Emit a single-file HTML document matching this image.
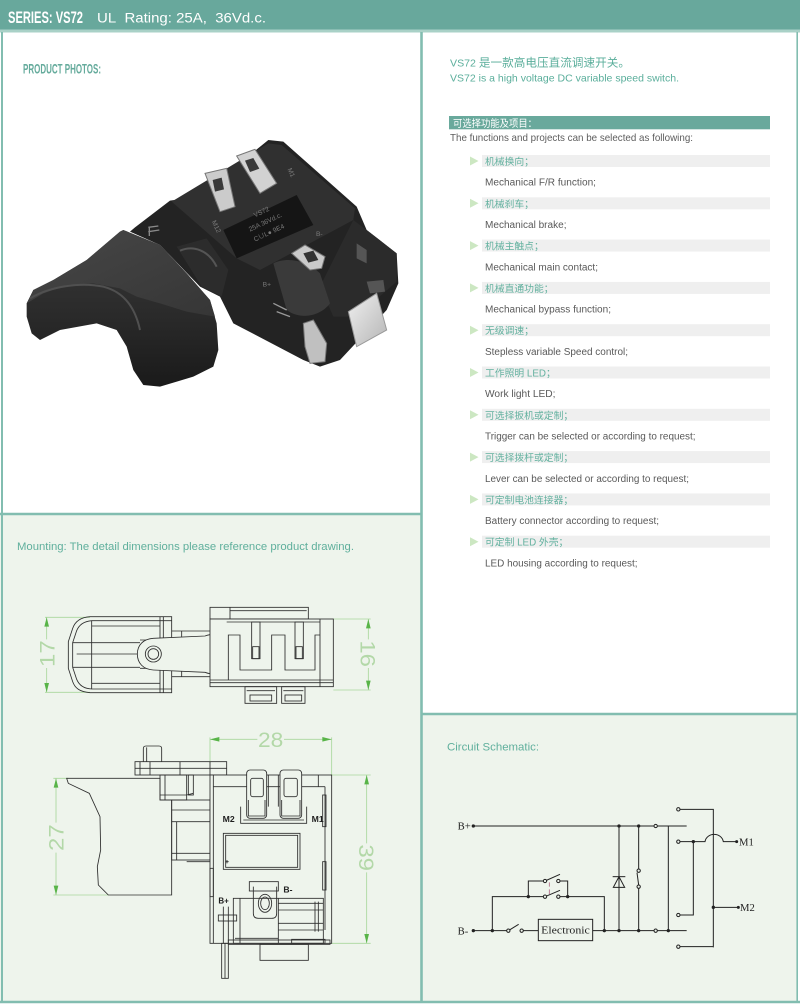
<!DOCTYPE html>
<html><head><meta charset="utf-8">
<style>
html,body{margin:0;padding:0;width:800px;height:1004px;overflow:hidden;background:#fff;}
svg{position:absolute;left:0;top:0;display:block;}
</style></head>
<body>
<svg width="800" height="1004" viewBox="0 0 800 1004" xmlns="http://www.w3.org/2000/svg" font-family="'Liberation Sans','Noto Sans CJK SC',sans-serif">
<defs>
<linearGradient id="trg" x1="0" y1="0" x2="0" y2="1">
<stop offset="0" stop-color="#3a3a3a"/><stop offset="0.55" stop-color="#2a2a2a"/><stop offset="1" stop-color="#1a1a1a"/>
</linearGradient>
<linearGradient id="trtop" x1="0" y1="0" x2="1" y2="1">
<stop offset="0" stop-color="#474747"/><stop offset="1" stop-color="#363636"/>
</linearGradient>
<linearGradient id="led" x1="0" y1="0" x2="1" y2="1">
<stop offset="0" stop-color="#f0f0f0"/><stop offset="1" stop-color="#b5b5b5"/>
</linearGradient>
</defs>
<!-- backgrounds -->
<rect x="0" y="0" width="800" height="1004" fill="#fff"/>
<rect x="0" y="515" width="421" height="487" fill="#eef4ec"/>
<rect x="421" y="715" width="377" height="287" fill="#eef4ec"/>
<rect x="0" y="0" width="800" height="29.5" fill="#68a89c"/>
<rect x="0" y="29.5" width="800" height="3" fill="#a9d1c7"/>
<!-- borders -->
<g stroke="#82bdb0" fill="none">
<line x1="2" y1="32" x2="2" y2="1003" stroke-width="2"/>
<line x1="797.2" y1="32" x2="797.2" y2="1003" stroke-width="1.6"/>
<line x1="421.5" y1="32" x2="421.5" y2="1003" stroke-width="2.6"/>
<line x1="0" y1="514" x2="421" y2="514" stroke-width="2.6"/>
<line x1="421" y1="714" x2="798" y2="714" stroke-width="2.6"/>
<line x1="0" y1="1002" x2="800" y2="1002" stroke-width="2.4"/>
</g>
<!-- header -->
<text x="8" y="23" font-size="17" font-weight="bold" fill="#fff" textLength="75" lengthAdjust="spacingAndGlyphs">SERIES: VS72</text>
<text x="97" y="22.5" font-size="13.5" fill="#fff" textLength="169" lengthAdjust="spacingAndGlyphs">UL&#160;&#160;Rating: 25A,&#160;&#160;36Vd.c.</text>
<text x="23" y="73.3" font-size="14" font-weight="bold" fill="#65ab9c" textLength="78" lengthAdjust="spacingAndGlyphs">PRODUCT PHOTOS:</text>

<!-- right panel text -->
<text x="450" y="66.7" font-size="10.5" fill="#5aae9b" textLength="180" lengthAdjust="spacingAndGlyphs">VS72 <tspan font-size="11.5">是一款高电压直流调速开关。</tspan></text>
<text x="450" y="81.7" font-size="10.5" fill="#5aae9b" textLength="229" lengthAdjust="spacingAndGlyphs">VS72 is a high voltage DC variable speed switch.</text>
<rect x="449" y="116" width="321" height="13.3" fill="#69a99c"/>
<text x="453" y="127.2" font-size="10" fill="#fff" textLength="84" lengthAdjust="spacingAndGlyphs">可选择功能及项目：</text>
<text x="450" y="141" font-size="10.3" fill="#5d5d5d" textLength="243" lengthAdjust="spacingAndGlyphs">The functions and projects can be selected as following:</text>

<g font-size="9.8">
<g transform="translate(0,155)">
<rect x="482" y="0" width="288" height="12" fill="#efefef"/><polygon points="470,1.5 478.5,6 470,10.5" fill="#cce7c2"/>
<text x="485" y="10" fill="#63b19f">机械换向；</text>
<text x="485" y="30.7" font-size="10" fill="#595959" textLength="111" lengthAdjust="spacingAndGlyphs">Mechanical F/R function;</text>
</g>
<g transform="translate(0,197.3)">
<rect x="482" y="0" width="288" height="12" fill="#efefef"/><polygon points="470,1.5 478.5,6 470,10.5" fill="#cce7c2"/>
<text x="485" y="10" fill="#63b19f">机械刹车；</text>
<text x="485" y="30.7" font-size="10" fill="#595959" textLength="81.5" lengthAdjust="spacingAndGlyphs">Mechanical brake;</text>
</g>
<g transform="translate(0,239.6)">
<rect x="482" y="0" width="288" height="12" fill="#efefef"/><polygon points="470,1.5 478.5,6 470,10.5" fill="#cce7c2"/>
<text x="485" y="10" fill="#63b19f">机械主触点；</text>
<text x="485" y="30.7" font-size="10" fill="#595959" textLength="113" lengthAdjust="spacingAndGlyphs">Mechanical main contact;</text>
</g>
<g transform="translate(0,281.9)">
<rect x="482" y="0" width="288" height="12" fill="#efefef"/><polygon points="470,1.5 478.5,6 470,10.5" fill="#cce7c2"/>
<text x="485" y="10" fill="#63b19f">机械直通功能；</text>
<text x="485" y="30.7" font-size="10" fill="#595959" textLength="126" lengthAdjust="spacingAndGlyphs">Mechanical bypass function;</text>
</g>
<g transform="translate(0,324.2)">
<rect x="482" y="0" width="288" height="12" fill="#efefef"/><polygon points="470,1.5 478.5,6 470,10.5" fill="#cce7c2"/>
<text x="485" y="10" fill="#63b19f">无级调速；</text>
<text x="485" y="30.7" font-size="10" fill="#595959" textLength="143" lengthAdjust="spacingAndGlyphs">Stepless variable Speed control;</text>
</g>
<g transform="translate(0,366.5)">
<rect x="482" y="0" width="288" height="12" fill="#efefef"/><polygon points="470,1.5 478.5,6 470,10.5" fill="#cce7c2"/>
<text x="485" y="10" fill="#63b19f">工作照明 LED；</text>
<text x="485" y="30.7" font-size="10" fill="#595959" textLength="70.5" lengthAdjust="spacingAndGlyphs">Work light LED;</text>
</g>
<g transform="translate(0,408.8)">
<rect x="482" y="0" width="288" height="12" fill="#efefef"/><polygon points="470,1.5 478.5,6 470,10.5" fill="#cce7c2"/>
<text x="485" y="10" fill="#63b19f">可选择扳机或定制；</text>
<text x="485" y="30.7" font-size="10" fill="#595959" textLength="210.5" lengthAdjust="spacingAndGlyphs">Trigger can be selected or according to request;</text>
</g>
<g transform="translate(0,451.1)">
<rect x="482" y="0" width="288" height="12" fill="#efefef"/><polygon points="470,1.5 478.5,6 470,10.5" fill="#cce7c2"/>
<text x="485" y="10" fill="#63b19f">可选择拨杆或定制；</text>
<text x="485" y="30.7" font-size="10" fill="#595959" textLength="204" lengthAdjust="spacingAndGlyphs">Lever can be selected or according to request;</text>
</g>
<g transform="translate(0,493.4)">
<rect x="482" y="0" width="288" height="12" fill="#efefef"/><polygon points="470,1.5 478.5,6 470,10.5" fill="#cce7c2"/>
<text x="485" y="10" fill="#63b19f">可定制电池连接器；</text>
<text x="485" y="30.7" font-size="10" fill="#595959" textLength="174" lengthAdjust="spacingAndGlyphs">Battery connector according to request;</text>
</g>
<g transform="translate(0,535.7)">
<rect x="482" y="0" width="288" height="12" fill="#efefef"/><polygon points="470,1.5 478.5,6 470,10.5" fill="#cce7c2"/>
<text x="485" y="10" fill="#63b19f">可定制 LED 外壳；</text>
<text x="485" y="30.7" font-size="10" fill="#595959" textLength="152.5" lengthAdjust="spacingAndGlyphs">LED housing according to request;</text>
</g>
</g>

<text x="17" y="550" font-size="11" fill="#5faf9c" textLength="337" lengthAdjust="spacingAndGlyphs">Mounting: The detail dimensions please reference product drawing.</text>
<text x="447" y="750.7" font-size="11" fill="#5faf9c" textLength="92" lengthAdjust="spacingAndGlyphs">Circuit Schematic:</text>

<!-- PRODUCT PHOTO -->
<g transform="translate(20,130) scale(0.33333)">
<path d="M450,212 L535,200 L745,30 L790,35 L1010,230 L1040,300 L1130,370 L1135,460 L1100,540 L960,690 L900,710 L850,690 L640,580 L600,500 L540,470 L420,345 L330,305 L345,292 Z" fill="#232323"/>
<path d="M455,215 L745,40 L785,45 L1005,235 L1000,270 L720,420 L650,385 Z" fill="#303030"/>
<path d="M1000,270 L1040,300 L1130,370 L1130,455 L1010,560 L940,560 L900,470 Z" fill="#2b2b2b"/>
<path d="M760,400 C800,380 860,390 900,430 L930,520 C900,560 840,570 800,540 Z" fill="#3a3a3a"/>
<path d="M470,350 L560,325 L625,420 L605,500 L545,470 Z" fill="#2c2c2c"/>
<path d="M480,362 C520,345 565,360 590,410" stroke="#555" stroke-width="6" fill="none"/>
<path d="M385,292 L415,288 M385,305 L418,300 M388,292 L388,318" stroke="#8a8a8a" stroke-width="4" fill="none"/>
<!-- trigger -->
<path d="M20,520 L40,480 L100,450 L200,390 L300,305 L310,300 L420,345 L500,430 L570,510 L590,580 L595,660 L580,710 L520,740 L420,770 L370,765 L340,720 L320,650 L290,600 L230,580 L120,600 L60,630 L35,610 L20,560 Z" fill="url(#trg)"/>
<path d="M20,520 L40,480 L100,450 L200,390 L300,305 L310,300 L420,345 L500,430 L570,510 L585,560 L500,545 L420,520 L350,500 L300,475 L220,460 L140,465 L70,490 Z" fill="url(#trtop)"/>
<path d="M30,505 C90,470 180,455 250,470 C310,485 345,530 360,600" stroke="#505050" stroke-width="6" fill="none"/>
<!-- label plate -->
<polygon points="610,300 830,195 880,285 650,385" fill="#151515"/>
<g fill="#7a7a7a" font-size="20">
<text transform="translate(705,262) rotate(-25)">VS72</text>
<text transform="translate(690,305) rotate(-25)">25A 36Vd.c.</text>
<text transform="translate(705,335) rotate(-25)">C∪L● 9E4</text>
<text transform="translate(575,275) rotate(65)">M12</text>
<text transform="translate(802,118) rotate(65)">M1</text>
<text transform="translate(888,318)">B-</text>
<text transform="translate(728,470)">B+</text>
</g>
<!-- terminals -->
<polygon points="555,130 620,115 645,230 600,245" fill="#cbcbcb" stroke="#777" stroke-width="3"/>
<polygon points="578,150 605,143 612,178 585,185" fill="#3a3a3a"/>
<polygon points="650,78 705,58 770,160 720,190" fill="#d2d2d2" stroke="#777" stroke-width="3"/>
<polygon points="675,92 700,84 718,116 690,126" fill="#3a3a3a"/>
<polygon points="815,370 855,345 915,380 905,415 870,420" fill="#cacaca" stroke="#777" stroke-width="3"/>
<polygon points="850,370 880,362 895,390 865,398" fill="#333"/>
<polygon points="1010,340 1040,360 1040,400 1010,385" fill="#555"/>
<!-- LED cap -->
<polygon points="1040,455 1090,450 1095,485 1050,490" fill="#555"/>
<polygon points="985,545 1070,490 1100,600 1010,650" fill="url(#led)" stroke="#999" stroke-width="3"/>
<!-- pin -->
<polygon points="850,580 880,570 920,640 915,695 870,700 855,650" fill="#c0c0c0" stroke="#777" stroke-width="3"/>
<path d="M760,520 L800,540 M770,545 L810,560" stroke="#999" stroke-width="4"/>
</g>

<!-- MOUNTING: TOP VIEW -->
<g transform="translate(0,500) scale(0.33333)">
<g stroke="#a8d69b" stroke-width="2.5" fill="none">
<path d="M135,352 L270,352 M135,577 L270,577 M140,352 L140,418 M140,504 L140,577"/>
<path d="M1000,357 L1112,357 M1000,570 L1112,570 M1105,357 L1105,418 M1105,504 L1105,570"/>
</g>
<g fill="#58b448">
<polygon points="140,352 133,380 147,380"/><polygon points="140,577 133,549 147,549"/>
<polygon points="1105,357 1098,385 1112,385"/><polygon points="1105,570 1098,542 1112,542"/>
</g>
<g fill="#b3d8a8" font-size="64" text-anchor="middle">
<text transform="translate(140,461) rotate(-90)" y="23" textLength="80" lengthAdjust="spacingAndGlyphs">17</text>
<text transform="translate(1105,461) rotate(90)" y="23" textLength="80" lengthAdjust="spacingAndGlyphs">16</text>
</g>
<g stroke="#2e2e2e" stroke-width="2.6" fill="none">
<path d="M515,350 L270,350 C240,352 225,365 218,385 L205,425 L205,505 L218,545 C225,565 240,576 270,578 L515,578 Z"/>
<path d="M515,362 L275,362 C250,364 237,375 230,392 L218,428 L218,502 L230,538 C237,555 250,566 275,567 L515,567"/>
<path d="M275,362 L275,567 M480,350 L480,578 M490,350 L490,578 M275,378 L480,378 M275,550 L480,550 M218,428 L420,428 M218,502 L420,502 M230,462 L415,462"/>
<path d="M515,393 L630,393 M515,530 L630,530 M545,393 L545,530 M515,420 L545,420 M515,505 L545,505 M420,420 L445,420 L445,440 L420,440 M420,485 L445,485 L445,505 L420,505"/>
<path d="M460,415 L615,408 C650,395 680,405 690,440 L690,485 C680,520 650,530 615,517 L460,510 C430,508 412,490 412,462 C412,435 430,417 460,415 Z" fill="#eef4ec"/>
<circle cx="460" cy="462" r="24"/><circle cx="460" cy="462" r="16"/>
<rect x="630" y="322" width="295" height="35"/>
<path d="M690,322 L690,357 M690,332 L920,332"/>
<rect x="630" y="357" width="370" height="203" fill="#eef4ec"/>
<path d="M960,357 L960,560 M680,366 L960,366 M630,540 L1000,540 M630,548 L1000,548"/>
<path d="M685,540 L685,405 L720,405 L720,510 L815,510 L815,405 L855,405 L855,510 L945,510 L945,405 L960,405"/>
<rect x="755" y="366" width="25" height="110"/><rect x="758" y="440" width="19" height="36"/>
<rect x="885" y="366" width="25" height="110"/><rect x="888" y="440" width="19" height="36"/>
<rect x="735" y="560" width="95" height="50"/><rect x="750" y="585" width="65" height="18"/>
<rect x="845" y="560" width="70" height="50"/><rect x="855" y="585" width="50" height="18"/>
<path d="M740,572 L825,572 M850,572 L910,572"/>
</g>
</g>

<!-- MOUNTING: SIDE VIEW -->
<g transform="translate(0,710) scale(0.33333)">
<g stroke="#a8d69b" stroke-width="2.5" fill="none">
<path d="M630,82 L630,160 M995,82 L995,195 M630,88 L772,88 M852,88 L995,88"/>
<path d="M160,205 L205,205 M160,555 L325,555 M168,205 L168,338 M168,428 L168,555"/>
<path d="M995,195 L1112,195 M995,700 L1112,700 M1100,195 L1100,400 M1100,487 L1100,700"/>
</g>
<g fill="#58b448">
<polygon points="630,88 658,81 658,95"/><polygon points="995,88 967,81 967,95"/>
<polygon points="168,205 161,233 175,233"/><polygon points="168,555 161,527 175,527"/>
<polygon points="1100,195 1093,223 1107,223"/><polygon points="1100,700 1093,672 1107,672"/>
</g>
<g fill="#b3d8a8" font-size="64" text-anchor="middle">
<text x="812" y="111" textLength="76" lengthAdjust="spacingAndGlyphs">28</text>
<text transform="translate(168,383) rotate(-90)" y="23" textLength="80" lengthAdjust="spacingAndGlyphs">27</text>
<text transform="translate(1100,443) rotate(90)" y="23" textLength="80" lengthAdjust="spacingAndGlyphs">39</text>
</g>
<g stroke="#2e2e2e" stroke-width="2.6" fill="none">
<path d="M200,205 L205,220 L268,250 L300,320 L302,420 L292,470 L295,525 L325,555 L515,555 L515,270 L480,270 L480,205 Z"/>
<rect x="405" y="155" width="275" height="40"/>
<path d="M420,155 L420,195 M450,155 L450,195 M540,155 L540,195 M630,155 L630,195 M405,175 L680,175"/>
<path d="M430,155 L430,116 Q430,108 438,108 L477,108 Q485,108 485,116 L485,155 M440,112 L440,155"/>
<rect x="480" y="195" width="80" height="75"/>
<rect x="565" y="195" width="15" height="60"/>
<path d="M495,195 L495,270 M480,255 L560,255 L580,250"/>
<rect x="515" y="270" width="115" height="180"/>
<path d="M530,335 L530,450 M515,300 L630,300 M515,335 L630,335 M515,430 L630,430 M560,455 L630,455"/>
<rect x="630" y="195" width="365" height="505" fill="#eef4ec"/>
<path d="M640,195 L640,700 M640,230 L975,230 M975,230 L975,660 M955,195 L955,230"/>
<rect x="740" y="180" width="60" height="145" rx="10" fill="#eef4ec"/><rect x="752" y="205" width="38" height="55" rx="6"/>
<rect x="840" y="180" width="65" height="145" rx="10" fill="#eef4ec"/><rect x="852" y="205" width="40" height="55" rx="6"/>
<path d="M745,270 L745,318 L795,318 L795,270 M845,270 L845,318 L900,318 L900,270 M805,195 L805,290 M835,195 L835,290"/>
<path d="M722,290 L722,340 L920,340 L920,290 M730,330 L912,330"/>
<rect x="670" y="370" width="230" height="108"/><rect x="677" y="376" width="216" height="96"/>
<path d="M676,455 L686,455 M681,450 L681,460"/>
<rect x="748" y="515" width="87" height="28"/>
<path d="M760,530 L760,610 Q760,625 775,625 L815,625 Q830,625 830,610 L830,530"/>
<ellipse cx="795" cy="580" rx="20" ry="27"/><ellipse cx="795" cy="580" rx="13" ry="19"/>
<rect x="700" y="565" width="270" height="135"/>
<path d="M835,565 L835,700 M835,580 L970,580 M835,600 L970,600 M835,640 L970,640 M835,660 L970,660 M945,575 L945,665 M955,575 L955,665 M720,565 L720,700 M705,685 L835,685"/>
<path d="M670,590 L670,700 M685,590 L685,700"/>
<rect x="655" y="615" width="55" height="18"/>
<rect x="630" y="475" width="10" height="85"/>
<rect x="968" y="255" width="10" height="95"/>
<rect x="968" y="455" width="10" height="85"/>
<rect x="685" y="690" width="305" height="13"/>
<rect x="875" y="688" width="100" height="12"/>
<rect x="780" y="703" width="145" height="48"/>
<rect x="665" y="700" width="20" height="105"/>
<path d="M675,700 L675,805"/>
</g>
<g fill="#1e1e1e" font-weight="bold">
<text x="668" y="336" font-size="26">M2</text>
<text x="935" y="336" font-size="26">M1</text>
<text x="850" y="548" font-size="26">B-</text>
<text x="655" y="580" font-size="24">B+</text>
</g>
</g>

<!-- CIRCUIT SCHEMATIC -->
<g transform="translate(420,700) scale(0.33333)" stroke="#222" stroke-width="3" fill="none">
<path d="M160,378 L800,378 M745,378 L745,692"/>
<path d="M160,692 L260,692 M265,692 L296,673 M310,692 L355,692"/>
<rect x="355" y="658" width="163" height="64"/>
<path d="M518,692 L800,692"/>
<path d="M217,692 L217,590 L370,590 M375,590 L420,571 M420,590 L553,590 L553,692"/>
<path d="M325,590 L325,543 L370,543 M375,543 L420,523 M420,543 L443,543 L443,590"/>
<path d="M597,378 L597,692"/>
<polygon points="597,530 580,562 614,562"/>
<path d="M578,530 L616,530"/>
<path d="M656,378 L656,507 M656,555 L651,518 M656,565 L656,692"/>
<path d="M780,328 L880,328 L880,742 M780,740 L880,740"/>
<path d="M780,425 L855,425 C860,396 905,396 910,425 L950,425"/>
<path d="M820,425 L820,645 L780,645"/>
<path d="M880,622 L955,622"/>
<path d="M388,547 L388,560 M388,568 L388,582" stroke="#b06a86" stroke-width="2.5"/>
<g fill="#222" stroke="none">
<circle cx="160" cy="378" r="5"/><circle cx="160" cy="692" r="5"/>
<circle cx="597" cy="378" r="5"/><circle cx="656" cy="378" r="5"/>
<circle cx="217" cy="692" r="5"/><circle cx="553" cy="692" r="5"/><circle cx="597" cy="692" r="5"/><circle cx="656" cy="692" r="5"/><circle cx="745" cy="692" r="5"/>
<circle cx="325" cy="590" r="5"/><circle cx="443" cy="590" r="5"/>
<circle cx="820" cy="425" r="5"/><circle cx="880" cy="622" r="5"/>
<circle cx="950" cy="425" r="4.5"/><circle cx="955" cy="622" r="4.5"/>
</g>
<g fill="#eef4ec">
<circle cx="707" cy="378" r="5"/><circle cx="707" cy="692" r="5"/>
<circle cx="265" cy="692" r="5"/><circle cx="305" cy="692" r="5"/>
<circle cx="375" cy="590" r="5"/><circle cx="415" cy="590" r="5"/>
<circle cx="375" cy="543" r="5"/><circle cx="415" cy="543" r="5"/>
<circle cx="656" cy="512" r="5"/><circle cx="656" cy="560" r="5"/>
<circle cx="775" cy="328" r="5"/><circle cx="775" cy="425" r="5"/><circle cx="775" cy="645" r="5"/><circle cx="775" cy="740" r="5"/>
</g>
<g fill="#222" stroke="none" font-family="'Liberation Serif',serif" font-size="32">
<text x="113" y="389">B+</text>
<text x="113" y="703">B-</text>
<text x="957" y="436">M1</text>
<text x="960" y="633">M2</text>
<text x="436.5" y="701" text-anchor="middle" font-size="30" textLength="146" lengthAdjust="spacingAndGlyphs">Electronic</text>
</g>
</g>
</svg>
</body></html>
